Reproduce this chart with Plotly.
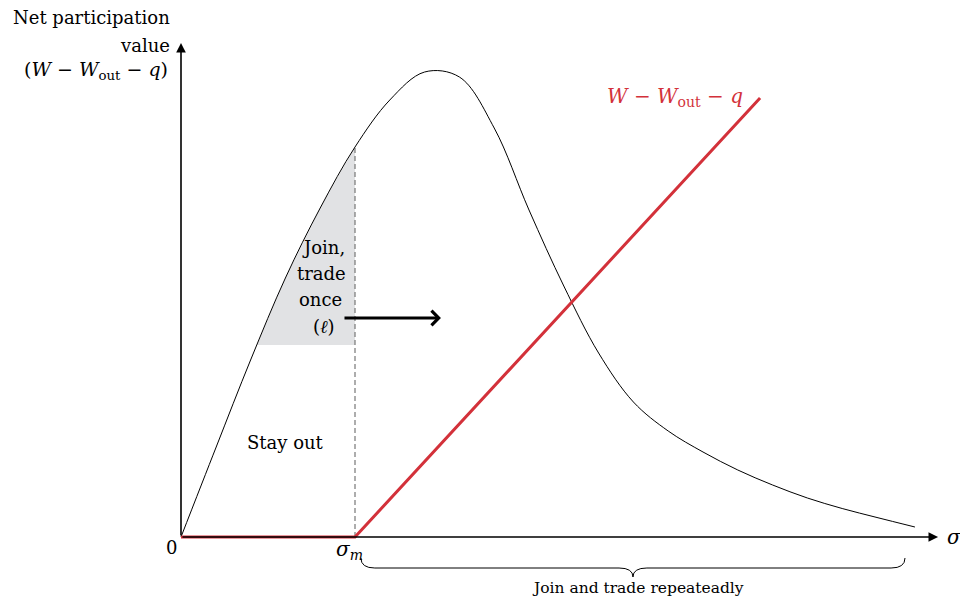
import plotly.graph_objects as go

# ---- data (sigma on x, net participation value on y; sigma_m = 1) ----
sigma_m = 1.0

# hump-shaped value of joining and trading once
curve_x = [0.0, 0.2, 0.4, 0.6, 0.8, 1.0, 1.2, 1.4, 1.6, 1.8, 2.0, 2.2,
           2.4, 2.6, 2.8, 3.0, 3.2, 3.4, 3.6, 3.8, 4.0, 4.218]
curve_y = [0.0, 0.89, 1.77, 2.59, 3.29, 3.90, 4.37, 4.65, 4.60, 4.09, 3.27, 2.51,
           1.84, 1.35, 1.06, 0.85, 0.67, 0.52, 0.39, 0.285, 0.195, 0.10]

# W - W_out - q : zero up to sigma_m, then rising linearly
red_x = [0.0, sigma_m, 3.328]
red_y = [0.0, 0.0, 4.39]

# lower edge of the "join, trade once" band
band_floor = 1.92

# axis extents and brace span
x_axis_end = 4.351
y_axis_end = 4.94
brace_start = 1.034
brace_end = 4.161

RED = "#d3313a"
SERIF = "DejaVu Serif"

fig = go.Figure()

# shaded "join, trade once" band between the curve and sigma_m
inside = [(x, y) for x, y in zip(curve_x, curve_y) if y >= band_floor and x <= sigma_m]
k = curve_x.index(inside[0][0])
x0, y0, x1, y1 = curve_x[k - 1], curve_y[k - 1], curve_x[k], curve_y[k]
x_floor = x0 + (band_floor - y0) * (x1 - x0) / (y1 - y0)
band_x = [x_floor] + [p[0] for p in inside] + [sigma_m, x_floor]
band_y = [band_floor] + [p[1] for p in inside] + [band_floor, band_floor]
fig.add_trace(go.Scatter(
    x=band_x, y=band_y, fill="toself", fillcolor="#e1e2e4",
    line=dict(width=0), mode="lines", hoverinfo="skip", showlegend=False))

# dashed line at sigma_m
sm_top = curve_y[curve_x.index(sigma_m)]
fig.add_trace(go.Scatter(
    x=[sigma_m, sigma_m], y=[0, sm_top], mode="lines",
    line=dict(color="#777777", width=1.2, dash="5px,3px"),
    hoverinfo="skip", showlegend=False))

# black curve
fig.add_trace(go.Scatter(
    x=curve_x, y=curve_y, mode="lines",
    line=dict(color="black", width=1, shape="spline", smoothing=1.0),
    hoverinfo="skip", showlegend=False))

# axes lines
fig.add_annotation(x=x_axis_end, y=0, ax=0, ay=0, xref="x", yref="y",
                   axref="x", ayref="y", showarrow=True, arrowhead=2,
                   arrowsize=1.2, arrowwidth=1.6, arrowcolor="black", text="")
fig.add_annotation(x=0, y=y_axis_end, ax=0, ay=0, xref="x", yref="y",
                   axref="x", ayref="y", showarrow=True, arrowhead=2,
                   arrowsize=1.2, arrowwidth=1.6, arrowcolor="black", text="")

# red line
fig.add_trace(go.Scatter(
    x=red_x, y=red_y, mode="lines",
    line=dict(color=RED, width=3),
    hoverinfo="skip", showlegend=False))

# arrow pointing right from the band
fig.add_annotation(x=1.494, y=2.19, ax=0.931, ay=2.19, xref="x", yref="y",
                   axref="x", ayref="y", showarrow=True, arrowhead=4,
                   arrowsize=1.0, arrowwidth=2.8, arrowcolor="black", text="")

# brace under the axis from sigma_m onward
yt, yh, yb, d = -0.21, -0.31, -0.40, 0.08
xm = (brace_start + brace_end) / 2
brace_path = (f"M {brace_start},{yt} Q {brace_start},{yh} {brace_start + d},{yh} "
              f"L {xm - d},{yh} Q {xm},{yh} {xm},{yb} "
              f"Q {xm},{yh} {xm + d},{yh} "
              f"L {brace_end - d},{yh} Q {brace_end},{yh} {brace_end},{yt}")
fig.add_shape(type="path", path=brace_path, xref="x", yref="y",
              line=dict(color="black", width=1))

def label(text, x, y, size=18, color="black", xanchor="center"):
    fig.add_annotation(x=x, y=y, xref="x", yref="y", text=text, showarrow=False,
                       font=dict(family=SERIF, size=size, color=color),
                       xanchor=xanchor, yanchor="middle")

# y-axis title, one line at a time
label("Net participation", -0.052, 5.20, xanchor="right")
label("value", -0.052, 4.92, xanchor="right")
label("(<i>W</i> − <i>W</i><sub>out</sub> − <i>q</i>)", -0.063, 4.67, size=19,
      xanchor="right")

label("<i>W</i> − <i>W</i><sub>out</sub> − <i>q</i>", 3.241, 4.40, size=20,
      color=RED, xanchor="right")

# region labels
label("Join,", 0.954, 2.90, xanchor="right")
label("trade", 0.960, 2.64, xanchor="right")
label("once", 0.937, 2.38, xanchor="right")
label("(<i>ℓ</i>)", 0.897, 2.11, xanchor="right")
label("Stay out", 0.598, 0.95)

label("0", -0.052, -0.10)
label("<i>σ</i><sub><i>m</i></sub>", 0.971, -0.13, size=20)
label("<i>σ</i>", 4.448, 0.0, size=20)
label("Join and trade repeateadly", 2.626, -0.51, size=15.5)

fig.update_layout(
    width=960, height=599,
    margin=dict(l=0, r=0, t=0, b=0),
    paper_bgcolor="white", plot_bgcolor="white",
    xaxis=dict(range=[-181 / 174, 779 / 174], visible=False, fixedrange=True),
    yaxis=dict(range=[-0.62, 5.37], visible=False, fixedrange=True),
    showlegend=False,
)

fig.write_html("out.html")
